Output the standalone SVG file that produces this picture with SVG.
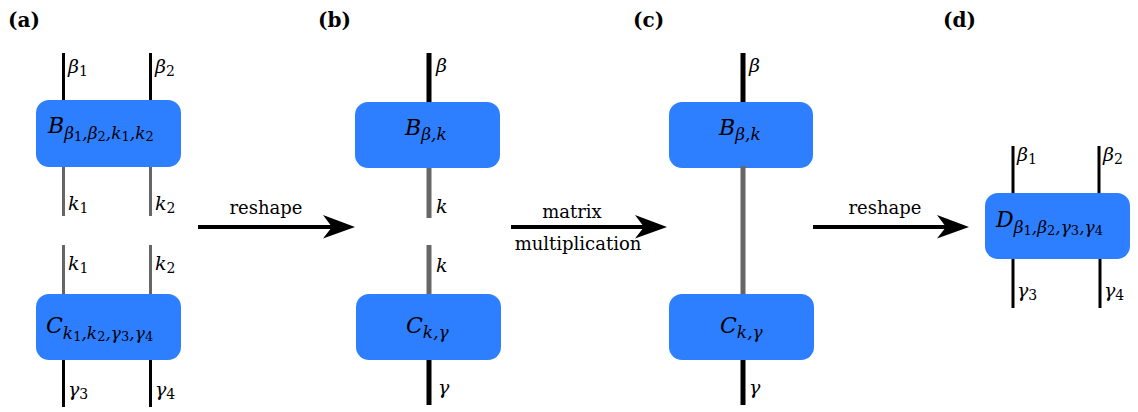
<svg xmlns="http://www.w3.org/2000/svg" width="1138" height="412" viewBox="0 0 1138 412">
<style>
.box{fill:#2D7FFF}
.lk{stroke:#000;stroke-width:3;fill:none}
.lkt{stroke:#000;stroke-width:5;fill:none}
.lg{stroke:#666;stroke-width:3;fill:none}
.lgt{stroke:#666;stroke-width:5;fill:none}
.arr{stroke:#000;stroke-width:4;fill:none}
.ah{fill:#000}
.pl{font-family:"DejaVu Serif",serif;font-weight:bold;font-size:20px}
.rm{font-family:"DejaVu Serif",serif;font-size:18px}
.m{font-family:"DejaVu Serif",serif;font-style:italic;font-size:22px}
.l{font-family:"DejaVu Serif",serif;font-style:italic;font-size:19px}
.s{font-size:17px}
.d{font-style:normal;font-size:14px}
.ds{font-style:normal;font-size:13px}
</style>

<g id="panel-labels">
<text class="pl" x="8" y="27">(a)</text>
<text class="pl" x="318" y="27">(b)</text>
<text class="pl" x="633" y="27">(c)</text>
<text class="pl" x="943" y="27">(d)</text>
</g>

<g id="connectors">
<line class="arr" x1="198" y1="227" x2="334" y2="227"/>
<path class="ah" d="M355,227 L323,215 L332,227 L323,238.5 Z"/>
<line class="arr" x1="511" y1="227" x2="646" y2="227"/>
<path class="ah" d="M667,227 L635,215 L644,227 L635,238.5 Z"/>
<line class="arr" x1="813" y1="227" x2="948" y2="227"/>
<path class="ah" d="M969,227 L937,215 L946,227 L937,238.5 Z"/>
<text class="rm" x="266" y="214" text-anchor="middle">reshape</text>
<text class="rm" x="572" y="218" text-anchor="middle">matrix</text>
<text class="rm" x="578" y="250" text-anchor="middle">multiplication</text>
<text class="rm" x="885" y="214" text-anchor="middle">reshape</text>
</g>

<g id="a-B">
<line class="lk" x1="63.5" y1="53" x2="63.5" y2="101"/>
<line class="lk" x1="150.5" y1="53" x2="150.5" y2="101"/>
<line class="lg" x1="63.5" y1="166" x2="63.5" y2="216"/>
<line class="lg" x1="150.5" y1="166" x2="150.5" y2="216"/>
<rect class="box" x="36" y="100" width="145" height="67" rx="13"/>
<text class="m" x="48" y="133">B<tspan class="s" dy="6">β<tspan class="ds" dy="2">1</tspan><tspan dy="-2">,β</tspan><tspan class="ds" dy="2">2</tspan><tspan dy="-2">,k</tspan><tspan class="ds" dy="2">1</tspan><tspan dy="-2">,k</tspan><tspan class="ds" dy="2">2</tspan></tspan></text>
<text class="l" x="68" y="73">β<tspan class="d" dy="3">1</tspan></text>
<text class="l" x="155" y="73">β<tspan class="d" dy="3">2</tspan></text>
<text class="l" x="68" y="210">k<tspan class="d" dy="3">1</tspan></text>
<text class="l" x="155" y="210">k<tspan class="d" dy="3">2</tspan></text>
</g>

<g id="a-C">
<line class="lg" x1="63.5" y1="245" x2="63.5" y2="295"/>
<line class="lg" x1="150.5" y1="245" x2="150.5" y2="295"/>
<line class="lk" x1="63.5" y1="359" x2="63.5" y2="407"/>
<line class="lk" x1="150.5" y1="359" x2="150.5" y2="407"/>
<rect class="box" x="36" y="294" width="145" height="66" rx="13"/>
<text class="m" x="46" y="333">C<tspan class="s" dy="6">k<tspan class="ds" dy="2">1</tspan><tspan dy="-2">,k</tspan><tspan class="ds" dy="2">2</tspan><tspan dy="-2">,γ</tspan><tspan class="ds" dy="2">3</tspan><tspan dy="-2">,γ</tspan><tspan class="ds" dy="2">4</tspan></tspan></text>
<text class="l" x="68" y="270">k<tspan class="d" dy="3">1</tspan></text>
<text class="l" x="155" y="270">k<tspan class="d" dy="3">2</tspan></text>
<text class="l" x="68" y="396">γ<tspan class="d" dy="3">3</tspan></text>
<text class="l" x="155" y="396">γ<tspan class="d" dy="3">4</tspan></text>
</g>

<g id="b-B">
<line class="lkt" x1="429" y1="53" x2="429" y2="103"/>
<line class="lgt" x1="429" y1="166" x2="429" y2="218"/>
<rect class="box" x="355" y="102" width="145" height="66" rx="13"/>
<text class="m" x="405" y="135">B<tspan class="s" dy="5">β,k</tspan></text>
<text class="l" x="436" y="72">β</text>
<text class="l" x="436" y="213">k</text>
</g>

<g id="b-C">
<line class="lgt" x1="429" y1="245" x2="429" y2="295"/>
<line class="lkt" x1="429" y1="359" x2="429" y2="405"/>
<rect class="box" x="356" y="294" width="145" height="66" rx="13"/>
<text class="m" x="406" y="333">C<tspan class="s" dy="5">k,γ</tspan></text>
<text class="l" x="436" y="272">k</text>
<text class="l" x="438" y="394">γ</text>
</g>

<g id="c-B">
<line class="lkt" x1="743" y1="53" x2="743" y2="103"/>
<rect class="box" x="669" y="102" width="144" height="66" rx="13"/>
<text class="m" x="719" y="135">B<tspan class="s" dy="5">β,k</tspan></text>
<text class="l" x="749" y="72">β</text>
</g>

<g id="c-C">
<line class="lgt" x1="743" y1="166" x2="743" y2="295"/>
<line class="lkt" x1="743" y1="359" x2="743" y2="405"/>
<rect class="box" x="669" y="294" width="145" height="66" rx="13"/>
<text class="m" x="720" y="333">C<tspan class="s" dy="5">k,γ</tspan></text>
<text class="l" x="749" y="394">γ</text>
</g>

<g id="d-D">
<line class="lk" x1="1013" y1="146" x2="1013" y2="194"/>
<line class="lk" x1="1099" y1="146" x2="1099" y2="194"/>
<line class="lk" x1="1013" y1="258" x2="1013" y2="308"/>
<line class="lk" x1="1100" y1="258" x2="1100" y2="308"/>
<rect class="box" x="985" y="193" width="145" height="66" rx="13"/>
<text class="m" x="996" y="227">D<tspan class="s" dy="6">β<tspan class="ds" dy="2">1</tspan><tspan dy="-2">,β</tspan><tspan class="ds" dy="2">2</tspan><tspan dy="-2">,γ</tspan><tspan class="ds" dy="2">3</tspan><tspan dy="-2">,γ</tspan><tspan class="ds" dy="2">4</tspan></tspan></text>
<text class="l" x="1017" y="161">β<tspan class="d" dy="3">1</tspan></text>
<text class="l" x="1103" y="161">β<tspan class="d" dy="3">2</tspan></text>
<text class="l" x="1017" y="297">γ<tspan class="d" dy="3">3</tspan></text>
<text class="l" x="1104" y="297">γ<tspan class="d" dy="3">4</tspan></text>
</g>
</svg>
